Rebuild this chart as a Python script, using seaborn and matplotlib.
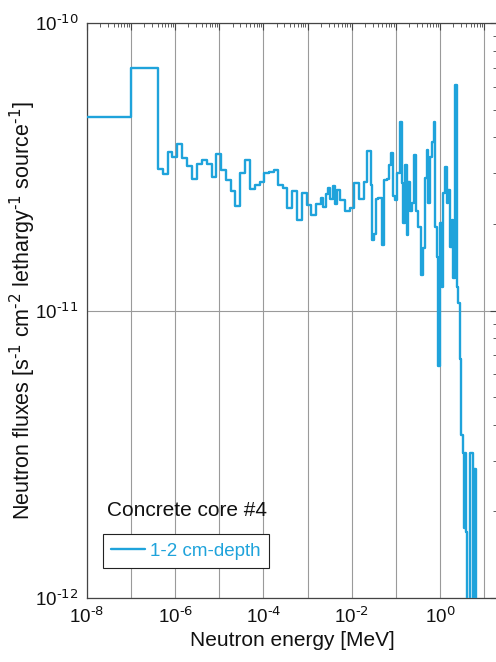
import numpy as np
import pandas as pd
import matplotlib
matplotlib.use("Agg")
import matplotlib.pyplot as plt
from matplotlib.ticker import FixedLocator, FuncFormatter, NullFormatter
import seaborn as sns

# Group boundaries (log10 of energy in MeV) and the flux in each group (x 1e-11)
log_e_edges = [
    -8.0, -7.0, -6.383, -6.279, -6.170, -6.066, -5.966, -5.846, -5.739, -5.626,
    -5.512, -5.399, -5.279, -5.172, -5.075, -4.968, -4.855, -4.741, -4.637, -4.524,
    -4.417, -4.304, -4.197, -4.084, -3.980, -3.866, -3.753, -3.658, -3.556, -3.458,
    -3.345, -3.238, -3.125, -3.011, -2.921, -2.807, -2.694, -2.642, -2.590, -2.537,
    -2.485, -2.433, -2.381, -2.324, -2.263, -2.143, -2.036, -1.946, -1.826, -1.719,
    -1.644, -1.567, -1.533, -1.492, -1.447, -1.395, -1.317, -1.261, -1.206, -1.152,
    -1.114, -1.054, -1.016, -0.964, -0.902, -0.864, -0.828, -0.789, -0.751, -0.714,
    -0.676, -0.639, -0.585, -0.540, -0.488, -0.433, -0.388, -0.336, -0.299, -0.261,
    -0.222, -0.186, -0.132, -0.109, -0.070, -0.034, 0.005, 0.043, 0.079, 0.118,
    0.156, 0.193, 0.231, 0.270, 0.306, 0.345, 0.383, 0.420, 0.447, 0.474,
    0.517, 0.540, 0.562, 0.585, 0.608, 0.683, 0.744, 0.780, 0.819, 0.866,
]
flux_e11 = [
    4.71, 6.97,
    3.10, 2.98, 3.57, 3.43, 3.79, 3.40, 3.19, 2.86, 3.22, 3.34,
    3.22, 2.92, 3.50, 3.07, 2.84, 2.61, 2.31, 3.00, 3.33,
    2.65, 2.73, 2.80, 3.01, 3.02, 3.08, 2.74, 2.66,
    2.28, 2.60, 2.07, 2.57, 2.33, 2.15, 2.35,
    2.46, 2.30, 2.55, 2.66, 2.45, 2.70, 2.35,
    2.62, 2.42, 2.22, 2.27,
    2.77, 2.44, 2.80, 3.60, 2.73, 1.76, 1.85, 2.45, 2.46, 1.69,
    2.84, 2.86, 3.21, 3.53, 2.50, 2.42, 3.01, 4.53, 2.77, 2.01,
    3.21, 1.83, 2.80,
    2.22, 2.37, 3.48, 2.22, 1.95, 1.33, 1.65, 2.89, 3.61, 2.37,
    3.42, 3.86, 4.53, 1.95, 1.54, 0.64, 2.01, 1.21, 2.56, 3.16,
    2.37, 2.62, 1.66, 2.07, 1.30,
    6.08, 1.21, 1.06, 0.68, 0.369, 0.32, 0.175, 0.32, 0.17, 0.05,
    0.32, 0.05, 0.28, 0.05,
]

series_label = "1-2 cm-depth"
sample_label = "Concrete core #4"
x_label = "Neutron energy [MeV]"
y_label = ("Neutron fluxes [s$^{\\text{-1}}$ cm$^{\\text{-2}}$ "
           "lethargy$^{\\text{-1}}$ source$^{\\text{-1}}$]")

energy = 10.0 ** np.array(log_e_edges)
flux = np.array(flux_e11 + [flux_e11[-1]]) * 1e-11
df = pd.DataFrame({"energy": energy, "flux": flux})

sns.set_style("white")
plt.rcParams["font.family"] = ["Liberation Sans", "DejaVu Sans"]
plt.rcParams["mathtext.default"] = "regular"
plt.rcParams["axes.unicode_minus"] = False

line_color = "#1FA3DB"
spine_color = "#444444"


def power_label(v):
    e = int(round(np.log10(v)))
    return f"$10^{{\\text{{{e}}}}}$"


fig = plt.figure(figsize=(4.96, 6.62), dpi=100)
ax = fig.add_axes([87 / 496, 1 - 598 / 662, 410.2 / 496, 575 / 662])

sns.lineplot(data=df, x="energy", y="flux", ax=ax, estimator=None, sort=False,
             drawstyle="steps-post", color=line_color, linewidth=1.7,
             label=series_label, zorder=3)

ax.set_xscale("log")
ax.set_yscale("log")
ax.set_xlim(1e-8, 20)
ax.set_ylim(1e-12, 1e-10)

decades = [10.0 ** k for k in range(-8, 2)]
ax.xaxis.set_major_locator(FixedLocator(decades))
ax.xaxis.set_major_formatter(FuncFormatter(
    lambda v, pos: power_label(v)
    if int(round(np.log10(v))) % 2 == 0 and v < 5 else ""))
ax.xaxis.set_minor_locator(FixedLocator(
    [m * 10.0 ** k for k in range(-8, 2) for m in range(2, 10)]))
ax.xaxis.set_minor_formatter(NullFormatter())

ax.yaxis.set_major_locator(FixedLocator([1e-12, 1e-11, 1e-10]))
ax.yaxis.set_major_formatter(FuncFormatter(lambda v, pos: power_label(v)))
ax.yaxis.set_minor_locator(FixedLocator(
    [m * 10.0 ** k for k in range(-12, -10) for m in range(2, 10)]))
ax.yaxis.set_minor_formatter(NullFormatter())

ax.grid(True, which="major", color="#9a9a9a", linewidth=0.8, zorder=0)
ax.grid(False, which="minor")
ax.set_axisbelow(True)

ax.tick_params(which="both", direction="in", top=True, right=True,
               colors=spine_color, labelcolor="#111111", labelsize=13.5)
ax.tick_params(which="major", length=5, width=0.8, pad=6)
ax.tick_params(which="minor", length=3, width=0.6)
for s in ax.spines.values():
    s.set_color(spine_color)
    s.set_linewidth(0.9)

ax.set_xlabel(x_label, fontsize=15, color="#111111", labelpad=3)
ax.set_ylabel(y_label, fontsize=15.5, color="#111111", labelpad=-2)

ax.text(0.049, 0.153, sample_label, transform=ax.transAxes, fontsize=15,
        color="#111111", ha="left", va="center")

leg = ax.legend(loc="lower left", bbox_to_anchor=(0.038, 0.052),
                borderaxespad=0, fontsize=13.5, frameon=True, fancybox=False,
                framealpha=1, edgecolor="#222222", handlelength=1.8,
                handletextpad=0.3, borderpad=0.45)
leg.get_frame().set_linewidth(0.8)
for t in leg.get_texts():
    t.set_color(line_color)

fig.savefig("out.png", dpi=100)
